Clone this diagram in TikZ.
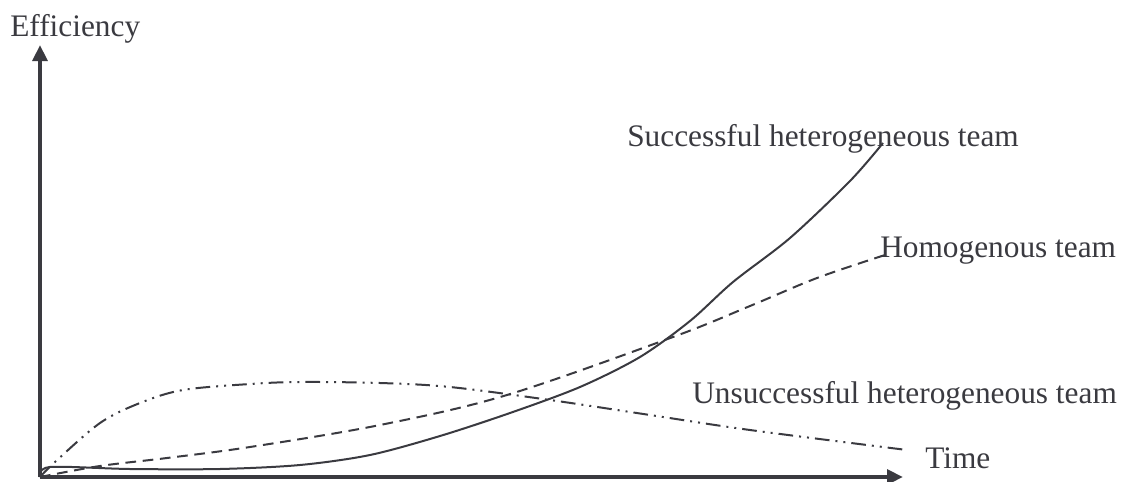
\documentclass[tikz,border=0pt]{standalone}
\usepackage{fontspec}
\setmainfont{Liberation Serif}
\usetikzlibrary{arrows.meta}
\definecolor{ink}{RGB}{58,58,64}

\begin{document}
\begin{tikzpicture}[x=0.75pt,y=-0.75pt,
  every node/.style={inner sep=0pt,text=ink,font=\fontsize{23.5}{28}\selectfont},
  axis/.style={line width=3pt,draw=ink,-{Triangle[length=12pt,width=11pt]}},
  curve/.style={line width=1.5pt,draw=ink},
  homcurve/.style={curve,dash pattern=on 8pt off 5pt},
  unsucccurve/.style={curve,dash pattern=on 11pt off 4.5pt on 1.5pt off 4.5pt on 1.5pt off 4.5pt}]
\useasboundingbox (0,0) rectangle (1132,482);

\coordinate (O) at (40,477);
\coordinate (ytip) at (40,45);
\coordinate (xtip) at (903,477);

\draw[axis] (O) -- (ytip);
\draw[axis] (O) -- (xtip);
\node[anchor=base west] (effl) at (10,36) {Efficiency};
\node[anchor=base west] (timel) at (925,468) {Time};

\draw[curve] plot[smooth,tension=0.5] coordinates {(O) (50,467) (130,469) (220,469) (300,465) (370,455) (440,436) (510,413) (580,387) (640,357) (690,321) (733,282) (790,238) (850,181) (883,143)};
\draw[homcurve] plot[smooth,tension=0.55] coordinates {(O) (100,466) (167,458) (250,447) (380,425) (507,395) (673,337) (750,306) (817,278) (885,255)};
\draw[unsucccurve] plot[smooth,tension=0.55] coordinates {(O) (55,462) (100,423) (140,403) (183,390) (250,384) (300,382) (380,383) (450,387) (550,400) (650,415) (750,430) (907,450)};

\node[anchor=base west] (succl) at (627,146) {Successful heterogeneous team};
\node[anchor=base west] (homl) at (880,257) {Homogenous team};
\node[anchor=base west] (unsuccl) at (692,403) {Unsuccessful heterogeneous team};
\end{tikzpicture}
\end{document}
